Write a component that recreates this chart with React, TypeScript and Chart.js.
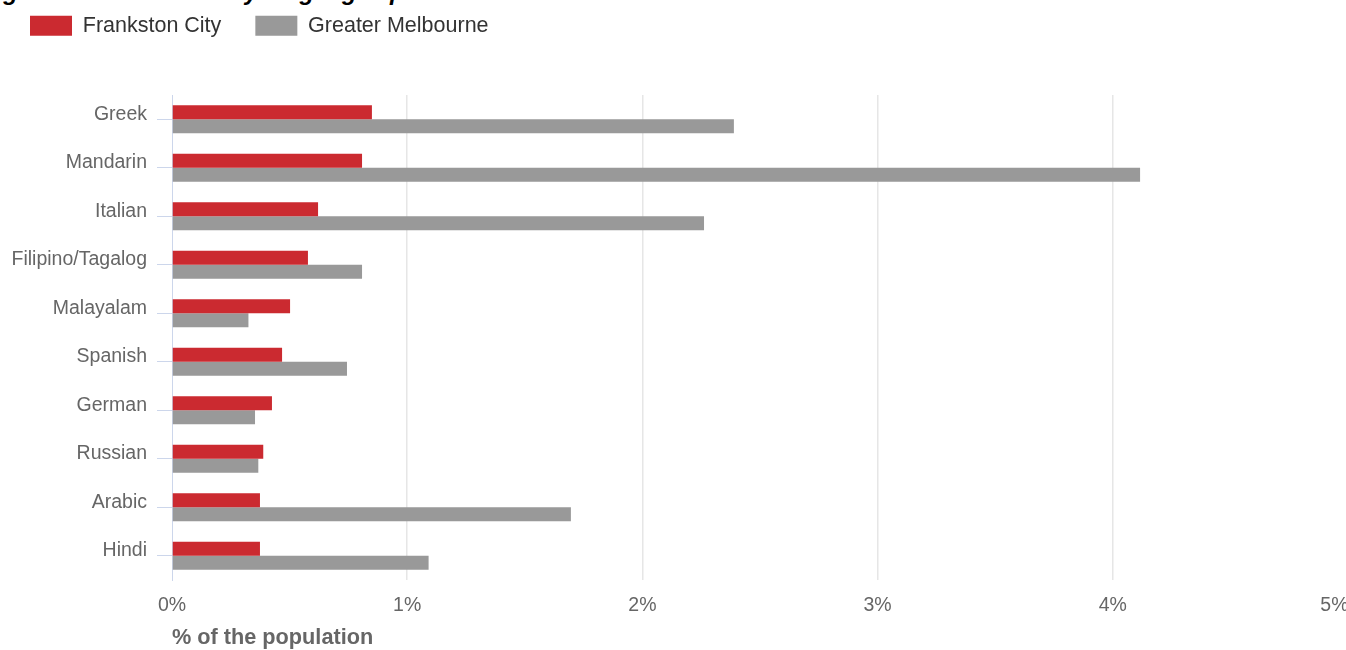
import React, { useEffect, useRef } from "react";
import { Chart, registerables } from "chart.js";

Chart.register(...registerables);

const titleText = "Figure 6: Frankston City language spoken at home";
const categories = [
  "Greek",
  "Mandarin",
  "Italian",
  "Filipino/Tagalog",
  "Malayalam",
  "Spanish",
  "German",
  "Russian",
  "Arabic",
  "Hindi",
];
const seriesNames = ["Frankston City", "Greater Melbourne"];
const frankston = [0.85, 0.808, 0.621, 0.578, 0.502, 0.468, 0.425, 0.388, 0.374, 0.374];
const melbourne = [2.389, 4.116, 2.262, 0.808, 0.325, 0.744, 0.353, 0.367, 1.696, 1.091];
const xTickValues = [0, 1, 2, 3, 4, 5];
const xAxisTitle = "% of the population";

const RED = "#cb2a30";
const GRAY = "#999999";

export default function App() {
  const canvasRef = useRef<HTMLCanvasElement | null>(null);

  useEffect(() => {
    if (!canvasRef.current) return;
    const legendSpacer = {
      id: "legendSpacer",
      beforeInit(chart: any) {
        const legend = chart.legend;
        if (!legend) return;
        const origFit = legend.fit;
        legend.fit = function () {
          origFit.call(this);
          this.height += 48.5;
        };
      },
    };

    const chart = new Chart(canvasRef.current, {
      type: "bar",
      data: {
        labels: categories,
        datasets: [
          {
            label: seriesNames[0],
            data: frankston,
            backgroundColor: RED,
            borderWidth: 0,
          },
          {
            label: seriesNames[1],
            data: melbourne,
            backgroundColor: GRAY,
            borderWidth: 0,
          },
        ],
      },
      options: {
        indexAxis: "y",
        responsive: true,
        maintainAspectRatio: false,
        animation: false,
        datasets: {
          bar: {
            categoryPercentage: 0.577,
            barPercentage: 1,
          },
        },
        layout: { padding: { left: 0, right: 4, top: 0, bottom: 0 } },
        plugins: {
          tooltip: { enabled: false },
          legend: {
            display: true,
            position: "top",
            align: "start",
            labels: {
              boxWidth: 42,
              boxHeight: 20,
              padding: 34,
              color: "#333333",
              font: { family: "'Liberation Sans', Arial, sans-serif", size: 21.5 },
            },
          },
        },
        scales: {
          x: {
            type: "linear",
            min: 0,
            max: 5,
            afterBuildTicks(scale: any) {
              scale.ticks = xTickValues.map((v) => ({ value: v }));
            },
            afterFit(scale: any) {
              scale.height = 70;
              scale.paddingLeft = 0;
              scale.paddingRight = 0;
            },
            grid: {
              drawTicks: false,
              color: (ctx: any) => (ctx.tick && ctx.tick.value === 0 ? "rgba(0,0,0,0)" : "#e6e6e6"),
              lineWidth: 1.5,
            },
            border: { display: false },
            ticks: {
              padding: 14,
              color: "#666666",
              font: { family: "'Liberation Sans', Arial, sans-serif", size: 19.5 },
              maxRotation: 0,
              autoSkip: false,
              callback: (v: any) => (v === 5 ? v + "%     " : v + "%"),
            },
            title: {
              display: true,
              text: xAxisTitle,
              align: "start",
              color: "#666666",
              font: { family: "'Liberation Sans', Arial, sans-serif", size: 21.7, weight: "bold", lineHeight: 1 },
              padding: { top: 0, bottom: 1.5 },
            },
          },
          y: {
            type: "category",
            afterFit(scale: any) {
              scale.width = 176;
              scale.paddingTop = 0;
              scale.paddingBottom = 0;
            },
            grid: {
              offset: false,
              drawOnChartArea: false,
              drawTicks: true,
              tickLength: 15,
              tickColor: "#ccd6eb",
              tickWidth: 1,
            },
            border: { display: true, color: "#ccd6eb", width: 1 },
            ticks: {
              padding: 10,
              labelOffset: -5,
              color: "#666666",
              font: { family: "'Liberation Sans', Arial, sans-serif", size: 19.5 },
              autoSkip: false,
            },
          },
        },
      } as any,
      plugins: [legendSpacer],
    });
    return () => chart.destroy();
  }, []);

  return (
    <div
      style={{
        position: "fixed",
        left: 0,
        top: 0,
        width: 1346,
        height: 650,
        overflow: "hidden",
        background: "#ffffff",
      }}
    >
      <div
        style={{
          position: "absolute",
          left: -18,
          top: -20,
          whiteSpace: "nowrap",
          fontFamily: "'Liberation Sans', Arial, sans-serif",
          fontWeight: "bold",
          fontStyle: "italic",
          fontSize: 24,
          lineHeight: "24px",
          color: "#000",
        }}
      >
        {titleText}
      </div>
      <div style={{ position: "absolute", left: -4, top: -19, width: 1356, height: 669 }}>
        <canvas ref={canvasRef} />
      </div>
    </div>
  );
}
